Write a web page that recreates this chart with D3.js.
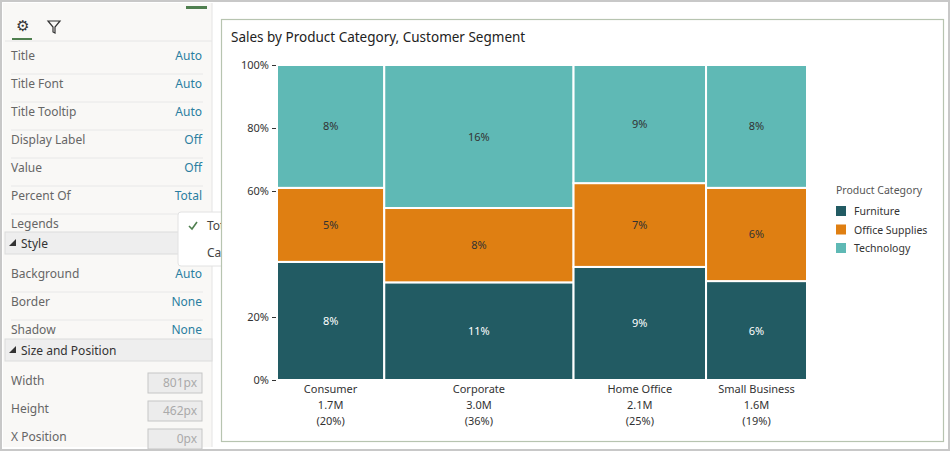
<!DOCTYPE html>
<html><head><meta charset="utf-8">
<script src="https://cdn.jsdelivr.net/npm/d3@7"></script>
<style>
body{margin:0;background:#fff;font-family:"Noto Sans","Open Sans",sans-serif;}
svg{display:block}
</style></head><body>
<svg id="c" width="950" height="451"></svg>
<script>
// segments along x, widths from sales
var segments = ["Consumer", "Corporate", "Home Office", "Small Business"];
var sales = [1.7, 3.0, 2.1, 1.6];
var salesLabels = ["1.7M", "3.0M", "2.1M", "1.6M"];
var shareLabels = ["(20%)", "(36%)", "(25%)", "(19%)"];
var categories = ["Furniture", "Office Supplies", "Technology"];
var colors = ["#225b63", "#df7f12", "#5fb9b5"];
// fraction of each segment by category
var furniture = [0.375, 0.31, 0.359, 0.314];
var officeSupplies = [0.235, 0.236, 0.266, 0.296];
var technology = [0.39, 0.454, 0.375, 0.39];
// percent of total labels
var furnitureLbl = ["8%", "11%", "9%", "6%"];
var officeLbl = ["5%", "8%", "7%", "6%"];
var techLbl = ["8%", "16%", "9%", "8%"];
var panelRows = [["Title","Auto"],["Title Font","Auto"],["Title Tooltip","Auto"],["Display Label","Off"],["Value","Off"],["Percent Of","Total"],["Legends",""]];
var styleRows = [["Background","Auto"],["Border","None"],["Shadow","None"]];
var sizeRows = [["Width","801px"],["Height","462px"],["X Position","0px"]];

var svg = d3.select("#c");
svg.append("rect").attr("x",1).attr("y",1).attr("width",948).attr("height",449).attr("fill","#fff").attr("stroke","#c8c8c8").attr("stroke-width",2);

// ---- left panel
var p = svg.append("g");
p.append("rect").attr("x",3).attr("y",3).attr("width",209).attr("height",444).attr("fill","#f9f8f6");
p.append("line").attr("x1",212).attr("x2",212).attr("y1",3).attr("y2",447).attr("stroke","#e4e4e4");
p.append("rect").attr("x",186).attr("y",6).attr("width",21).attr("height",3).attr("fill","#4f7f4f");
p.append("text").attr("x",22).attr("y",31).attr("text-anchor","middle").attr("font-size",15).attr("fill","#333").text("\u2699");
p.append("path").attr("d","M48,21 L60,21 L55,27 L55,33 L53,32 L53,27 Z").attr("fill","none").attr("stroke","#333").attr("stroke-width",1.2);
p.append("rect").attr("x",12).attr("y",38).attr("width",20).attr("height",2).attr("fill","#4f7f4f");
p.append("line").attr("x1",5).attr("x2",212).attr("y1",41).attr("y2",41).attr("stroke","#e6e6e6");
function rows(list, y0, step, boxes){
  list.forEach(function(r,i){
    var y = y0 + i*step;
    p.append("text").attr("x",11).attr("y",y).attr("font-size",12).attr("fill","#666").text(r[0]);
    if (boxes) {
      p.append("rect").attr("x",148).attr("y",y-12).attr("width",54).attr("height",20).attr("fill","#ececec").attr("stroke","#c6c6c6");
      p.append("text").attr("x",197).attr("y",y+2).attr("text-anchor","end").attr("font-size",12).attr("fill","#aaa").text(r[1]);
    } else {
      p.append("text").attr("x",202).attr("y",y).attr("text-anchor","end").attr("font-size",12).attr("fill","#2a7ea0").text(r[1]);
      p.append("line").attr("x1",11).attr("x2",203).attr("y1",y+14).attr("y2",y+14).attr("stroke","#e8e8e8");
    }
  });
}
rows(panelRows, 60, 28);
function header(y, t){
  p.append("rect").attr("x",5).attr("y",y-13).attr("width",207).attr("height",22).attr("fill","#eeeeee").attr("stroke","#dcdcdc");
  p.append("path").attr("d","M9,"+(y+1)+" L16,"+(y+1)+" L16,"+(y-6)+" Z").attr("fill","#333");
  p.append("text").attr("x",21).attr("y",y+3).attr("font-size",12).attr("fill","#333").text(t);
}
header(245,"Style");
rows(styleRows, 278, 28);
header(352,"Size and Position");
rows(sizeRows, 385, 28, true);
// dropdown
var dd = svg.append("g");
dd.append("rect").attr("x",178).attr("y",212).attr("width",105).attr("height",54).attr("rx",3).attr("fill","#fff").attr("stroke","#e2e2e2");
dd.append("path").attr("d","M189,226 L192,229 L197,222").attr("fill","none").attr("stroke","#4f7f4f").attr("stroke-width",1.6);
dd.append("text").attr("x",207).attr("y",230).attr("font-size",12).attr("fill","#444").text("Total");
dd.append("text").attr("x",207).attr("y",257).attr("font-size",12).attr("fill","#444").text("Category");

// ---- chart panel
svg.append("rect").attr("x",221.5).attr("y",19.5).attr("width",722).attr("height",422).attr("fill","#fff").attr("stroke","#b7c4b0").attr("stroke-width",1.2);
svg.append("text").attr("x",231).attr("y",42).attr("font-size",13.5).attr("fill","#222").text("Sales by Product Category, Customer Segment");

var x0 = 277, x1 = 807, yTop = 65, yBot = 380;
var total = d3.sum(sales);
var x = d3.scaleLinear().domain([0,total]).range([x0,x1]);
var y = d3.scaleLinear().domain([0,1]).range([yBot,yTop]);
var cum = d3.cumsum([0].concat(sales));
var fracs = [furniture, officeSupplies, technology];
var lbls = [furnitureLbl, officeLbl, techLbl];
var chart = svg.append("g");
segments.forEach(function(s,i){
  var base = 0;
  fracs.forEach(function(f,k){
    var v = f[i];
    chart.append("rect").attr("x",x(cum[i])).attr("y",y(base+v)).attr("width",x(cum[i+1])-x(cum[i])).attr("height",y(base)-y(base+v))
      .attr("fill",colors[k]).attr("stroke","#fff").attr("stroke-width",2);
    chart.append("text").attr("x",(x(cum[i])+x(cum[i+1]))/2).attr("y",(y(base)+y(base+v))/2+4).attr("text-anchor","middle")
      .attr("font-size",11).attr("fill",k==0?"#fff":"#333").text(lbls[k][i]);
    base += v;
  });
  var cx = (x(cum[i])+x(cum[i+1]))/2;
  [s, salesLabels[i], shareLabels[i]].forEach(function(t,j){
    chart.append("text").attr("x",cx).attr("y",393+j*16).attr("text-anchor","middle").attr("font-size",11).attr("fill","#333").text(t);
  });
});
var ax = svg.append("g").attr("transform","translate("+(x0-1)+",0)")
  .call(d3.axisLeft(y).tickValues([0,0.2,0.6,0.8,1]).tickFormat(d3.format(".0%")).tickSize(4));
ax.select(".domain").remove();
ax.selectAll("text").attr("font-size",11).attr("fill","#333").attr("font-family","Noto Sans, sans-serif");
ax.selectAll("line").attr("stroke","#333");

var lg = svg.append("g");
lg.append("text").attr("x",836).attr("y",194).attr("font-size",10.5).attr("fill","#555").text("Product Category");
categories.forEach(function(c,i){
  lg.append("rect").attr("x",836).attr("y",206+i*18.5).attr("width",10).attr("height",10).attr("fill",colors[i]);
  lg.append("text").attr("x",854).attr("y",215+i*18.5).attr("font-size",10.5).attr("fill","#333").text(c);
});
</script></body></html>
